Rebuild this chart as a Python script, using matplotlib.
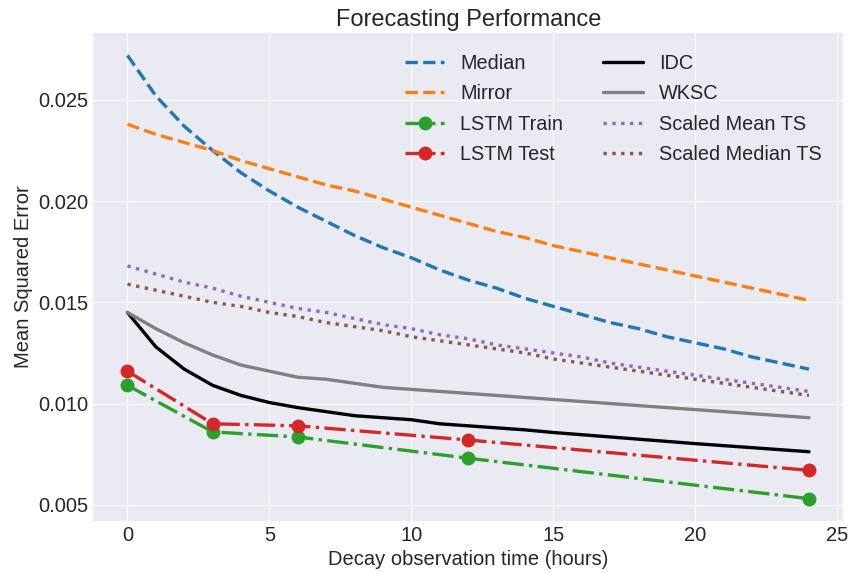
import numpy as np
import matplotlib
matplotlib.use("Agg")
import matplotlib.pyplot as plt

plt.style.use("seaborn-v0_8-darkgrid")
plt.rcParams["font.family"] = ["Liberation Sans", "DejaVu Sans"]

hours = list(range(25))
lstm_hours = [0, 3, 6, 12, 24]

median = [0.0272, 0.0252, 0.0237, 0.0225, 0.0214, 0.0205, 0.0197, 0.0190, 0.0183,
          0.0177, 0.0172, 0.0166, 0.0161, 0.0157, 0.0152, 0.0148, 0.0144, 0.0140,
          0.0137, 0.0133, 0.0130, 0.0127, 0.0123, 0.0120, 0.0117]
mirror = [0.0238, 0.0233, 0.0229, 0.0225, 0.0220, 0.0216, 0.0212, 0.0208, 0.0205,
          0.0201, 0.0197, 0.0193, 0.0189, 0.0185, 0.0182, 0.0178, 0.0175, 0.0172,
          0.0169, 0.0166, 0.0163, 0.0160, 0.0157, 0.0154, 0.0151]
lstm_train = [0.0109, 0.0086, 0.00835, 0.0073, 0.0053]
lstm_test = [0.0116, 0.0090, 0.0089, 0.0082, 0.0067]
idc = [0.0145, 0.0128, 0.0117, 0.0109, 0.0104, 0.01005, 0.0098, 0.0096, 0.0094,
       0.0093, 0.0092, 0.0090, 0.0089, 0.0088, 0.0087, 0.00857, 0.00846, 0.00835,
       0.00824, 0.00813, 0.00802, 0.00792, 0.00782, 0.00772, 0.00762]
wksc = [0.0145, 0.0137, 0.0130, 0.0124, 0.0119, 0.0116, 0.0113, 0.0112, 0.0110,
        0.0108, 0.0107, 0.0106, 0.0105, 0.0104, 0.0103, 0.0102, 0.0101, 0.0100,
        0.0099, 0.0098, 0.0097, 0.0096, 0.0095, 0.0094, 0.0093]
scaled_mean = [0.0168, 0.0164, 0.0160, 0.0157, 0.0153, 0.0150, 0.0147, 0.0145, 0.0142,
               0.0139, 0.0137, 0.0134, 0.0132, 0.0129, 0.0127, 0.0125, 0.0123, 0.0120,
               0.0118, 0.0116, 0.0114, 0.0112, 0.0110, 0.0108, 0.0106]
scaled_median = [0.0159, 0.0156, 0.0153, 0.0150, 0.0148, 0.0145, 0.0143, 0.0140, 0.0138,
                 0.0136, 0.0133, 0.0131, 0.0129, 0.0127, 0.0125, 0.0122, 0.0120, 0.0118,
                 0.0116, 0.0114, 0.0112, 0.0110, 0.0108, 0.0106, 0.0104]

fig, ax = plt.subplots(figsize=(8.49, 5.73), dpi=100)
fig.subplots_adjust(left=0.11, right=0.993, top=0.942, bottom=0.091)

lw = 2.4
ax.plot(hours, median, "--", color="tab:blue", lw=lw, label="Median")
ax.plot(hours, mirror, "--", color="tab:orange", lw=lw, label="Mirror")
ax.plot(lstm_hours, lstm_train, "-.", marker="o", ms=9, color="tab:green", lw=lw, label="LSTM Train")
ax.plot(lstm_hours, lstm_test, "-.", marker="o", ms=9, color="tab:red", lw=lw, label="LSTM Test")
ax.plot(hours, idc, "-", color="black", lw=lw, label="IDC")
ax.plot(hours, wksc, "-", color="gray", lw=lw, label="WKSC")
ax.plot(hours, scaled_mean, ":", color="tab:purple", lw=lw, label="Scaled Mean TS")
ax.plot(hours, scaled_median, ":", color="tab:brown", lw=lw, label="Scaled Median TS")

ax.set_title("Forecasting Performance", fontsize=17, pad=5)
ax.set_xlabel("Decay observation time (hours)", fontsize=14.5)
ax.set_ylabel("Mean Squared Error", fontsize=14.5)
ax.tick_params(labelsize=14.5)
ax.legend(ncol=2, loc="upper right", bbox_to_anchor=(0.995, 0.995), fontsize=14.3,
          labelspacing=0.58, frameon=False)

fig.savefig("out.png", dpi=100)
